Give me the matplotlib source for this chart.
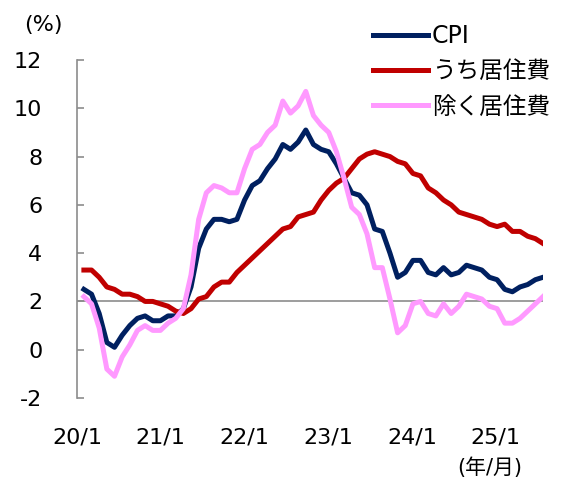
import numpy as np
import matplotlib
matplotlib.use('Agg')
import matplotlib.pyplot as plt

plt.rcParams['font.family'] = ['DejaVu Sans', 'Noto Sans CJK JP']

# monthly YoY (%), 2020/1 - 2025/1
cpi = [2.5, 2.3, 1.5, 0.3, 0.1, 0.6, 1.0, 1.3, 1.4, 1.2, 1.2, 1.4,
       1.4, 1.7, 2.6, 4.2, 5.0, 5.4, 5.4, 5.3, 5.4, 6.2, 6.8, 7.0,
       7.5, 7.9, 8.5, 8.3, 8.6, 9.1, 8.5, 8.3, 8.2, 7.7, 7.1, 6.5,
       6.4, 6.0, 5.0, 4.9, 4.0, 3.0, 3.2, 3.7, 3.7, 3.2, 3.1, 3.4,
       3.1, 3.2, 3.5, 3.4, 3.3, 3.0, 2.9, 2.5, 2.4, 2.6, 2.7, 2.9,
       3.0]
shelter = [3.3, 3.3, 3.0, 2.6, 2.5, 2.3, 2.3, 2.2, 2.0, 2.0, 1.9, 1.8,
           1.6, 1.5, 1.7, 2.1, 2.2, 2.6, 2.8, 2.8, 3.2, 3.5, 3.8, 4.1,
           4.4, 4.7, 5.0, 5.1, 5.5, 5.6, 5.7, 6.2, 6.6, 6.9, 7.1, 7.5,
           7.9, 8.1, 8.2, 8.1, 8.0, 7.8, 7.7, 7.3, 7.2, 6.7, 6.5, 6.2,
           6.0, 5.7, 5.6, 5.5, 5.4, 5.2, 5.1, 5.2, 4.9, 4.9, 4.7, 4.6,
           4.4]
ex_shelter = [2.2, 1.9, 0.9, -0.8, -1.1, -0.3, 0.2, 0.8, 1.0, 0.8, 0.8, 1.1,
              1.3, 1.7, 3.1, 5.4, 6.5, 6.8, 6.7, 6.5, 6.5, 7.5, 8.3, 8.5,
              9.0, 9.3, 10.3, 9.8, 10.1, 10.7, 9.7, 9.3, 9.0, 8.2, 7.1, 5.9,
              5.6, 4.8, 3.4, 3.4, 2.1, 0.7, 1.0, 1.9, 2.0, 1.5, 1.4, 1.9,
              1.5, 1.8, 2.3, 2.2, 2.1, 1.8, 1.7, 1.1, 1.1, 1.3, 1.6, 1.9,
              2.2]
x_labels = ['20/1', '21/1', '22/1', '23/1', '24/1', '25/1']
series_names = ['CPI', 'うち居住費', '除く居住費']

W, H = 571, 479
fig = plt.figure(figsize=(W / 100, H / 100), dpi=100)
ax = fig.add_axes([77 / W, 1 - 398 / H, (543 - 77) / W, (398 - 60) / H])

months = np.arange(len(cpi))
ax.plot(months, cpi, color='#002060', lw=3.6, label=series_names[0], solid_joinstyle='round')
ax.plot(months, shelter, color='#C00000', lw=3.6, label=series_names[1], solid_joinstyle='round')
ax.plot(months, ex_shelter, color='#FF99FF', lw=3.6, label=series_names[2], solid_joinstyle='round')

ax.set_xlim(0, 60)
ax.set_ylim(-2, 12)
ax.axhline(2, color='#8c8c8c', lw=1.2, zorder=1)

for s in ['top', 'right', 'bottom']:
    ax.spines[s].set_visible(False)
ax.spines['left'].set_color('#8c8c8c')
ax.spines['left'].set_linewidth(1.2)

ax.set_yticks(np.arange(-2, 13, 2))
ax.set_yticklabels([str(v) for v in range(-2, 13, 2)])
ax.tick_params(axis='y', direction='in', length=5, width=1.2, color='#8c8c8c',
               pad=25, labelsize=16)

# labels sit a bit left of the yearly positions in the original
ax.set_xticks(np.arange(6) * 10.94 - 0.9)
ax.set_xticklabels(x_labels)
ax.tick_params(axis='x', length=0, pad=21, labelsize=16)

fig.text(43 / W, 1 - 25 / H, '(%)', ha='center', va='center', fontsize=16)
fig.text(522 / W, 1 - 468 / H, '(年/月)', ha='right', va='center', fontsize=15)

ax.legend(loc='upper left', bbox_to_anchor=(373 / W, 1 - 24 / H),
          bbox_transform=fig.transFigure, frameon=False, fontsize=17,
          handlelength=2.35, handletextpad=0.15, borderpad=0, borderaxespad=0,
          labelspacing=0.48)

fig.savefig('out.png', dpi=100)
